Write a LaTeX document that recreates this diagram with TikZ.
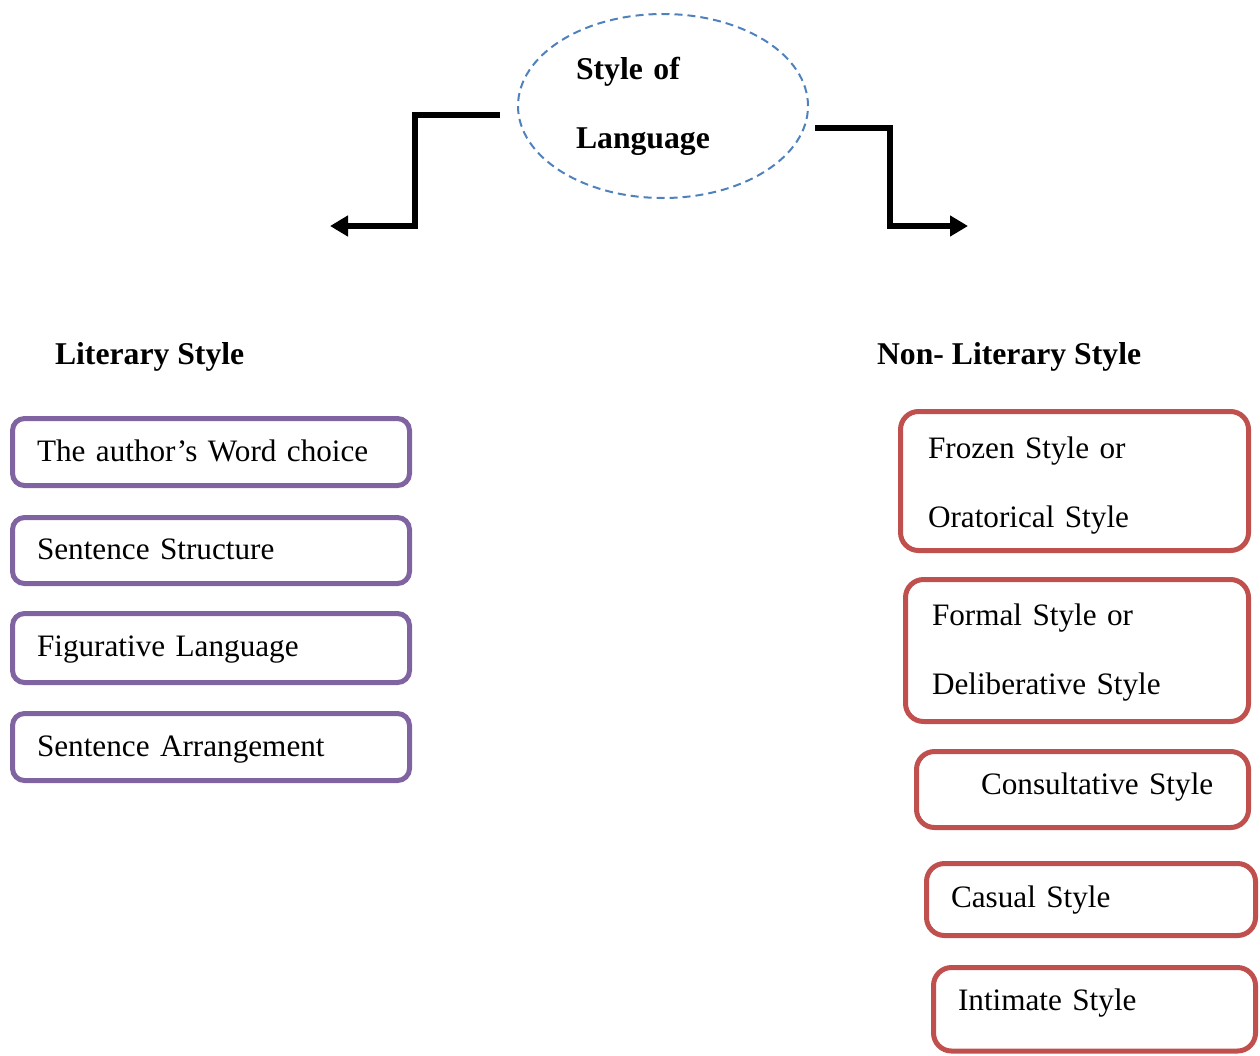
\documentclass[tikz,border=0pt]{standalone}
\usepackage{fontspec}
\setmainfont{Liberation Serif}
\usetikzlibrary{shapes.geometric,arrows.meta}
\definecolor{lblue}{HTML}{4F81BD}
\definecolor{lpurple}{HTML}{8064A2}
\definecolor{lred}{HTML}{C0504D}
\tikzset{
  txt/.style={font=\fontsize{31.2}{69}\selectfont},
  boxbase/.style={txt, line width=5pt, anchor=north west, inner ysep=0pt, outer sep=0pt, align=left},
  lbox/.style={boxbase, draw=lpurple, rounded corners=12pt, inner xsep=24.5pt, text width=348pt},
  rbox/.style={boxbase, draw=lred, rounded corners=18pt},
  conn/.style={line width=5.5pt, -{Triangle[length=18pt,width=20pt]}},
  head/.style={font=\fontsize{31.7}{38}\selectfont\bfseries, anchor=base west, inner sep=0pt, outer sep=0pt},
  rootstyle/.style={ellipse, draw=lblue, line width=2pt, dash pattern=on 8pt off 5pt,
    minimum width=290pt, minimum height=184pt, inner sep=0pt, outer sep=0pt, text width=174pt, align=left,
    font=\fontsize{31.7}{69}\selectfont\bfseries}
}
\begin{document}
\begin{tikzpicture}[x=1pt,y=-1pt]
\useasboundingbox (0,0) rectangle (1260,1055);

\node[rootstyle] (root) at (663,106) {Style of\\Language};

\coordinate (lend) at (330,226);
\coordinate (rend) at (968,226);
\draw[conn] ([shift={(-18,9)}]root.west) -| ([xshift=85pt]lend) -- (lend);
\draw[conn] ([shift={(7,22)}]root.east) -| ([xshift=-78pt]rend) -- (rend);

\node[head] (lit) at (55,364.8) {Literary Style};
\node[head] (nonlit) at (877,364.8) {Non- Literary Style};

\node[lbox, text height=43.3pt, text depth=23.7pt] (l1) at (12.5,418.5) {The author’s Word choice};
\node[lbox, text height=42.3pt, text depth=23.7pt] (l2) at (12.5,517.5) {Sentence Structure};
\node[lbox, text height=43.3pt, text depth=25.7pt] (l3) at (12.5,613.5) {Figurative Language};
\node[lbox, text height=43.3pt, text depth=23.7pt] (l4) at (12.5,713.5) {Sentence Arrangement};

\node[rbox, inner xsep=27.5pt, text width=293pt, text height=47.3pt, text depth=91.7pt] (r1) at (900.5,411.5) {Frozen Style or\\Oratorical Style};
\node[rbox, inner xsep=26.5pt, text width=290pt, text height=46.3pt, text depth=95.7pt] (r2) at (905.5,579.5) {Formal Style or\\Deliberative Style};
\node[rbox, inner xsep=24.5pt, text width=283pt, text height=43.3pt, text depth=32.7pt] (r3) at (916.5,751.5) {\hspace*{40pt}Consultative Style};
\node[rbox, inner xsep=24.5pt, text width=280pt, text height=44.3pt, text depth=27.7pt] (r4) at (926.5,863.5) {Casual Style};
\node[rbox, inner xsep=24.5pt, text width=273pt, text height=43.3pt, text depth=40.2pt] (r5) at (933.5,967.5) {Intimate Style};
\end{tikzpicture}
\end{document}
